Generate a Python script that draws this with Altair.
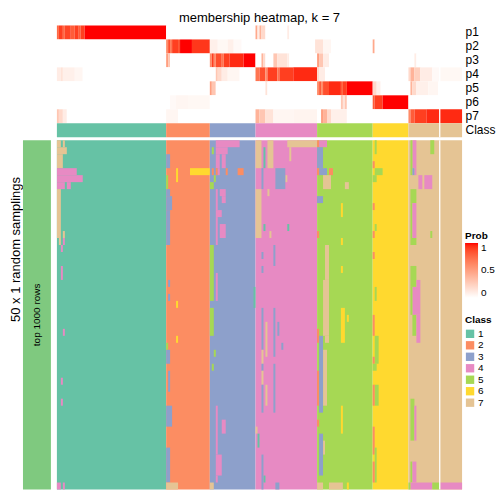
import altair as alt
import pandas as pd

# ---------------- data ----------------
TITLE = "membership heatmap, k = 7"
ROW_TITLE = "50 x 1 random samplings"
ANNOT_LABEL = "top 1000 rows"
P_ROWS = ["p1", "p2", "p3", "p4", "p5", "p6", "p7"]
CLASS_LABELS = ["1", "2", "3", "4", "5", "6", "7"]
CLASS_COLORS = ["#66C2A5", "#FC8D62", "#8DA0CB", "#E78AC3", "#A6D854", "#FFD92F", "#E5C494"]
CLASS_BLOCKS = [55, 22, 23, 31, 28, 18, 27]   # number of samples (columns) per class, in order
N_SAMPLINGS = 50
GAP_AT = [192.75]                             # thin white separator column position
PROB_TICKS = [0, 0.5, 1]

# membership probabilities: (first col, last col, value); other cells are 0
P1 = [(0, 0, 0.75), (1, 2, 0.9), (3, 3, 0.75), (4, 6, 0.88), (7, 8, 0.8), (9, 10, 0.9),
      (11, 11, 0.8), (12, 13, 0.9), (14, 54, 1.0),
      (100, 100, 0.45), (101, 101, 0.1), (102, 102, 0.4), (103, 104, 0.2), (116, 116, 0.1)]
P2 = [(55, 55, 0.6), (56, 56, 0.85), (57, 57, 0.7), (58, 60, 0.9), (61, 61, 0.85),
      (62, 67, 1.0), (68, 76, 0.92),
      (77, 80, 0.08), (81, 85, 0.04), (86, 88, 0.08), (89, 92, 0.03),
      (130, 133, 0.15), (134, 137, 0.05), (159, 159, 0.45)]
P3 = [(55, 55, 0.5), (56, 56, 0.3),
      (77, 77, 0.6), (78, 78, 0.9), (79, 79, 0.6), (80, 82, 0.85), (83, 83, 0.7),
      (84, 86, 0.9), (87, 93, 0.95), (94, 99, 1.0),
      (103, 103, 0.4), (104, 104, 0.2), (109, 110, 0.3), (111, 115, 0.15), (116, 116, 0.1),
      (131, 131, 0.5), (132, 133, 0.3), (134, 136, 0.1), (180, 180, 0.1)]
P4 = [(0, 1, 0.1), (2, 2, 0.15), (3, 8, 0.08), (9, 12, 0.05),
      (80, 80, 0.3), (81, 82, 0.2), (83, 85, 0.1), (86, 91, 0.05),
      (100, 101, 0.7), (102, 104, 0.85), (105, 105, 0.6), (106, 110, 0.9), (111, 111, 0.7),
      (112, 118, 0.9), (119, 130, 0.95),
      (131, 131, 0.2), (132, 134, 0.1),
      (177, 177, 0.2), (178, 179, 0.4), (180, 182, 0.25), (183, 188, 0.1), (189, 192, 0.03),
      (193, 203, 0.04)]
P5 = [(77, 77, 0.5), (78, 79, 0.3), (105, 105, 0.15),
      (131, 131, 0.6), (132, 132, 0.8), (133, 133, 0.6), (134, 136, 0.85), (137, 142, 0.95),
      (143, 143, 0.8), (144, 145, 0.9), (146, 158, 1.0),
      (159, 160, 0.2), (161, 162, 0.08),
      (178, 178, 0.4), (179, 180, 0.2), (181, 186, 0.08), (187, 191, 0.05)]
P6 = [(57, 59, 0.03), (60, 65, 0.05), (66, 76, 0.04),
      (143, 143, 0.3), (144, 144, 0.15), (145, 145, 0.3),
      (159, 159, 0.8), (160, 163, 0.9), (164, 176, 1.0)]
P7 = [(0, 0, 0.3), (1, 2, 0.2), (3, 4, 0.1), (55, 60, 0.05),
      (100, 101, 0.4), (102, 104, 0.3), (105, 108, 0.15), (109, 118, 0.05), (119, 130, 0.06),
      (133, 133, 0.5), (134, 135, 0.4), (136, 137, 0.2), (138, 145, 0.08),
      (177, 177, 0.6), (178, 179, 0.8), (180, 185, 0.9), (186, 203, 0.95)]
P_SEGMENTS = [P1, P2, P3, P4, P5, P6, P7]

# cells of the sampling heatmap that differ from the consensus class:
# (first col, last col, first row, last row, class)
MAIN_DEVIATIONS = [
    # class 1 block
    (0, 1, 0, 0, 7), (3, 3, 0, 0, 7), (0, 4, 1, 1, 7), (0, 2, 2, 3, 7),
    (0, 9, 4, 4, 4), (0, 12, 5, 5, 4), (0, 3, 6, 6, 4), (5, 6, 6, 6, 4),
    (0, 1, 7, 13, 7), (1, 1, 14, 14, 7), (3, 3, 13, 13, 7), (3, 3, 14, 14, 4),
    (2, 2, 15, 15, 4), (2, 2, 18, 19, 4), (3, 3, 27, 27, 4), (2, 2, 34, 34, 4),
    (2, 2, 37, 37, 4), (0, 1, 49, 49, 4), (3, 3, 49, 49, 4),
    # class 2 block
    (55, 56, 2, 3, 3), (55, 56, 7, 14, 3), (57, 57, 8, 9, 3), (56, 56, 20, 20, 3),
    (56, 56, 22, 22, 3), (55, 56, 30, 31, 3), (56, 56, 33, 35, 3), (55, 57, 38, 40, 3),
    (55, 56, 44, 48, 3), (55, 55, 5, 6, 5), (55, 55, 29, 29, 5),
    (60, 60, 4, 5, 6), (67, 76, 4, 4, 6), (60, 60, 23, 23, 6), (60, 60, 28, 28, 6),
    (55, 60, 49, 49, 7),
    # class 3 block
    (80, 91, 0, 0, 4), (80, 85, 1, 1, 4), (78, 78, 1, 1, 5), (80, 81, 2, 3, 4), (83, 84, 2, 3, 4),
    (78, 78, 4, 4, 2), (80, 80, 4, 4, 2), (81, 81, 4, 4, 4), (85, 85, 4, 4, 2), (91, 93, 4, 4, 2),
    (79, 79, 5, 5, 5), (77, 78, 6, 6, 5), (80, 80, 7, 9, 4), (82, 84, 7, 7, 4), (83, 84, 8, 8, 4),
    (80, 82, 10, 10, 4), (80, 80, 11, 14, 4), (82, 84, 12, 13, 4),
    (77, 78, 15, 22, 5), (77, 78, 24, 27, 5), (80, 80, 19, 22, 4),
    (79, 79, 30, 30, 5), (78, 78, 32, 32, 5),
    (80, 80, 38, 48, 4), (83, 84, 40, 41, 4), (81, 82, 45, 47, 4), (77, 78, 49, 49, 7),
    # class 4 block
    (100, 102, 0, 3, 7), (104, 104, 1, 3, 1), (106, 108, 0, 3, 7), (116, 130, 0, 0, 7),
    (117, 117, 1, 2, 7), (103, 103, 4, 6, 3), (110, 114, 4, 6, 3), (115, 115, 5, 5, 7),
    (100, 102, 7, 13, 7), (106, 106, 7, 7, 7), (107, 107, 13, 13, 7), (104, 104, 12, 12, 1),
    (116, 116, 12, 12, 1),
    (103, 103, 16, 16, 3), (103, 103, 18, 18, 3), (103, 103, 24, 29, 3), (103, 103, 32, 32, 3),
    (103, 103, 35, 38, 3), (109, 109, 15, 17, 3), (109, 109, 24, 30, 3), (109, 109, 32, 38, 3),
    (105, 105, 26, 30, 7), (105, 105, 35, 37, 7), (103, 103, 30, 31, 7), (103, 103, 33, 34, 7),
    (111, 111, 26, 27, 3), (113, 113, 29, 29, 3), (99, 99, 21, 23, 1),
    (100, 100, 41, 41, 7), (101, 101, 42, 43, 1), (104, 104, 48, 48, 1), (110, 111, 49, 49, 3),
    (103, 103, 45, 49, 3),
    # class 5 block
    (131, 131, 0, 0, 2), (131, 131, 4, 4, 2), (131, 131, 13, 13, 2), (131, 131, 27, 28, 2),
    (131, 131, 33, 37, 2), (131, 131, 40, 40, 2), (132, 135, 0, 0, 4), (131, 133, 1, 3, 3),
    (132, 135, 4, 4, 3), (137, 138, 4, 4, 2), (134, 137, 5, 6, 7), (145, 146, 6, 6, 7),
    (131, 133, 8, 8, 3), (135, 136, 15, 28, 7), (134, 134, 20, 27, 7),
    (132, 133, 28, 38, 3), (134, 135, 30, 37, 7), (132, 133, 42, 47, 3), (134, 134, 43, 44, 7),
    (143, 143, 9, 10, 6), (143, 143, 14, 14, 6), (143, 143, 18, 18, 6), (143, 144, 24, 28, 6),
    (143, 143, 38, 41, 6), (146, 146, 25, 25, 6),
    (131, 133, 49, 49, 7), (137, 143, 49, 49, 7), (146, 146, 49, 49, 6),
    # class 6 block
    (159, 159, 3, 3, 2), (159, 159, 9, 9, 2), (159, 159, 13, 13, 2), (159, 159, 16, 16, 2),
    (159, 159, 25, 27, 2), (159, 159, 31, 31, 2), (159, 159, 35, 37, 2), (159, 159, 41, 44, 2),
    (159, 159, 46, 48, 2), (160, 160, 0, 1, 5), (160, 163, 4, 4, 5), (159, 160, 5, 5, 5),
    (160, 160, 12, 12, 5), (160, 160, 21, 22, 5), (160, 161, 28, 31, 5), (159, 160, 32, 32, 5),
    (160, 161, 35, 37, 5), (160, 160, 44, 48, 5),
    # class 7 block
    (178, 178, 0, 4, 5), (179, 180, 0, 4, 4), (179, 179, 4, 4, 3),
    (182, 183, 5, 6, 4), (185, 188, 5, 6, 4),
    (178, 180, 7, 14, 5), (179, 180, 9, 13, 4),
    (178, 180, 18, 24, 5), (179, 180, 21, 24, 4), (181, 182, 20, 28, 4), (179, 180, 25, 27, 5),
    (178, 179, 37, 42, 5), (180, 180, 38, 42, 4),
    (178, 180, 46, 48, 5), (179, 180, 46, 48, 4),
    (188, 189, 0, 1, 5), (188, 188, 13, 13, 5),
    (177, 177, 49, 49, 5), (178, 188, 49, 49, 4), (189, 192, 49, 49, 5), (193, 203, 49, 49, 4),
]

# ---------------- build tables ----------------
col_class = []
for k, n in enumerate(CLASS_BLOCKS, start=1):
    col_class += [k] * n
N = len(col_class)


def runs(values):
    out, start = [], 0
    for i in range(1, len(values) + 1):
        if i == len(values) or values[i] != values[start]:
            out.append((start, i, values[start]))
            start = i
    return out


prob_records = []
for name, segs in zip(P_ROWS, P_SEGMENTS):
    vals = [0.0] * N
    for c0, c1, v in segs:
        for c in range(c0, c1 + 1):
            vals[c] = v
    for a, b, v in runs(vals):
        prob_records.append({"c0": a, "c1": b, "row": name, "prob": v})
prob_df = pd.DataFrame(prob_records)

class_df = pd.DataFrame([{"c0": a, "c1": b, "row": "Class", "cls": str(v)}
                         for a, b, v in runs(col_class)])

# consensus background: one full-height block per class
base_df = pd.DataFrame([{"c0": a, "c1": b, "r0": 0, "r1": N_SAMPLINGS, "cls": str(v)}
                        for a, b, v in runs(col_class)])

# deviating cells, merged horizontally then vertically
grid = [list(col_class) for _ in range(N_SAMPLINGS)]
for c0, c1, r0, r1, k in MAIN_DEVIATIONS:
    for r in range(r0, r1 + 1):
        for c in range(c0, c1 + 1):
            grid[r][c] = k
dev_rows = []
for r in range(N_SAMPLINGS):
    marked = [grid[r][c] if grid[r][c] != col_class[c] else 0 for c in range(N)]
    dev_rows.append({(a, b, v) for a, b, v in runs(marked) if v != 0})
dev_records = []
open_runs = {}
for r in range(N_SAMPLINGS + 1):
    cur = dev_rows[r] if r < N_SAMPLINGS else set()
    for key in list(open_runs):
        if key not in cur:
            a, b, v = key
            dev_records.append({"c0": a, "c1": b, "r0": open_runs.pop(key), "r1": r, "cls": str(v)})
    for key in cur:
        if key not in open_runs:
            open_runs[key] = r
dev_df = pd.DataFrame(dev_records)
gap_df = pd.DataFrame({"g": GAP_AT})

# ---------------- chart ----------------
FONT = "Liberation Sans"
W, TOP_H, MAIN_H, LEFT_W = 406, 112, 350, 28
NOFRAME = alt.ViewBackground(stroke="transparent", strokeWidth=0)

xscale = alt.Scale(domain=[0, N], nice=False, zero=False)
yscale_main = alt.Scale(domain=[N_SAMPLINGS, 0], nice=False, zero=False)
class_scale = alt.Scale(domain=CLASS_LABELS, range=CLASS_COLORS)
prob_scale = alt.Scale(domain=[0, 1], range=["#FFFFFF", "#FF0000"], interpolate="lab")
yrows = alt.Y("row:N", title=None,
              scale=alt.Scale(domain=P_ROWS + ["Class"], paddingInner=0, paddingOuter=0),
              axis=alt.Axis(orient="right", ticks=False, domain=False, labelFontSize=12,
                            labelPadding=3, labelColor="black", labelFont=FONT))

prob_layer = alt.Chart(prob_df).mark_rect().encode(
    x=alt.X("c0:Q", scale=xscale, axis=None), x2="c1",
    y=yrows,
    color=alt.Color("prob:Q", scale=prob_scale,
                    legend=alt.Legend(title="Prob", orient="none", legendX=409, legendY=206,
                                      values=PROB_TICKS, format="~g", direction="vertical",
                                      gradientLength=55, gradientThickness=13,
                                      gradientStrokeWidth=0, labelBaseline="middle",
                                      labelOffset=3,
                                      titleFontSize=10, labelFontSize=10, titleFont=FONT,
                                      labelFont=FONT, labelColor="black", titleColor="black",
                                      titlePadding=2)),
)
class_layer = alt.Chart(class_df).mark_rect().encode(
    x=alt.X("c0:Q", scale=xscale, axis=None), x2="c1",
    y=yrows,
    color=alt.Color("cls:N", scale=class_scale,
                    legend=alt.Legend(title="Class", orient="none", legendX=409, legendY=290,
                                      symbolType="square", symbolSize=70, symbolStrokeWidth=0,
                                      titleFontSize=10, labelFontSize=10, titleFont=FONT,
                                      labelFont=FONT, labelColor="black", titleColor="black",
                                      rowPadding=1.5, titlePadding=4, labelOffset=3)),
)
gap_top = alt.Chart(gap_df).mark_rule(color="white", strokeWidth=1.3).encode(
    x=alt.X("g:Q", scale=xscale, axis=None))

top = alt.layer(prob_layer, class_layer, gap_top).resolve_scale(
    color="independent"
).properties(width=W, height=TOP_H, view=NOFRAME,
             title=alt.TitleParams(TITLE, fontSize=13, font=FONT, fontWeight="normal",
                                   anchor="middle", color="black", offset=0))

base_rect = alt.Chart(base_df).mark_rect().encode(
    x=alt.X("c0:Q", scale=xscale, axis=None), x2="c1",
    y=alt.Y("r0:Q", scale=yscale_main, axis=None), y2="r1",
    color=alt.Color("cls:N", scale=class_scale, legend=None),
)
dev_rect = alt.Chart(dev_df).mark_rect().encode(
    x=alt.X("c0:Q", scale=xscale, axis=None), x2="c1",
    y=alt.Y("r0:Q", scale=yscale_main, axis=None), y2="r1",
    color=alt.Color("cls:N", scale=class_scale, legend=None),
)
gap_main = alt.Chart(gap_df).mark_rule(color="white", strokeWidth=1.3).encode(
    x=alt.X("g:Q", scale=xscale, axis=None))
main = alt.layer(base_rect, dev_rect, gap_main).properties(width=W, height=MAIN_H, view=NOFRAME)

left_df = pd.DataFrame({"r0": [0], "r1": [N_SAMPLINGS]})
left_bar = alt.Chart(left_df).mark_rect(color="#7FC97F").encode(
    x=alt.value(0), x2=alt.value(LEFT_W),
    y=alt.Y("r0:Q", scale=yscale_main,
            axis=alt.Axis(title=ROW_TITLE, labels=False, ticks=False, domain=False, grid=False,
                          titleFontSize=13, titleFont=FONT, titleFontWeight="normal",
                          titleColor="black", titlePadding=0, titleY=109)),
    y2="r1",
)
left_text = alt.Chart(pd.DataFrame({"t": [ANNOT_LABEL]})).mark_text(
    angle=270, fontSize=10, font=FONT, color="black").encode(
    text="t:N", x=alt.value(LEFT_W / 2), y=alt.value(MAIN_H / 2))
left = alt.layer(left_bar, left_text).properties(width=LEFT_W, height=MAIN_H, view=NOFRAME)

blank = alt.Chart(pd.DataFrame({"a": [0]})).mark_rect(opacity=0).encode(
    x=alt.value(0), x2=alt.value(1), y=alt.value(0), y2=alt.value(1)
).properties(width=LEFT_W, height=TOP_H, view=NOFRAME)

chart = alt.concat(blank, top, left, main, columns=2, spacing={"row": 3, "column": 6},
                   bounds="flush").resolve_scale(
    color="independent"
).properties(padding={"left": 2, "top": 3, "right": 0, "bottom": 0}
).configure_view(stroke="transparent", strokeWidth=0).configure(font=FONT)

chart.save("out.html", embed_options={"renderer": "svg", "actions": False})
